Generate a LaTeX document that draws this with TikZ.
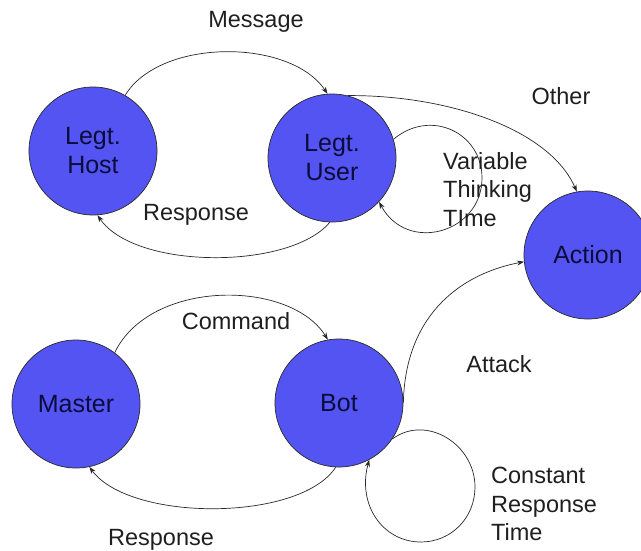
\documentclass[tikz,border=0pt]{standalone}
\usepackage{fontspec}
\setmainfont{Liberation Sans}
\usetikzlibrary{arrows.meta}
\definecolor{statefill}{RGB}{84,84,242}
\definecolor{statetext}{RGB}{12,12,60}
\definecolor{wire}{RGB}{40,40,40}

\begin{document}
\begin{tikzpicture}[x=1pt,y=-1pt,
  state/.style={circle,draw=wire,line width=0.7pt,fill=statefill,
    minimum size=128pt,inner sep=0pt,align=center,text=statetext,
    font=\fontsize{25}{29}\selectfont},
  lbl/.style={inner sep=0pt,text=black!88,font=\fontsize{23.5}{28.5}\selectfont},
  edge/.style={draw=wire,line width=0.7pt,-{Stealth[length=7pt,width=5pt]}}]

\path[use as bounding box] (0,0) rectangle (641,550);

% states
\node[state] (host)   at (93,151)  {Legt.\\Host};
\node[state] (user)   at (332,158) {Legt.\\User};
\node[state] (action) at (588,255) {Action};
\node[state] (master) at (76,404)  {Master};
\node[state] (bot)    at (339,403) {Bot};

% legitimate exchange
\draw[edge] (host.60) .. controls (160,38) and (290,38) .. (user.94);
\draw[edge] (user.-92) .. controls (290,270) and (135,270) .. (host.-86);
\draw[edge] (user.76) .. controls (450,95) and (550,130) .. (action.100);
\draw[edge] (user.17) .. controls (431,108) and (482,133) .. (482,178)
            .. controls (482,233) and (407,254) .. (user.-43);

% bot exchange
\draw[edge] (master.53) .. controls (150,279) and (290,279) .. (bot.100);
\draw[edge] (bot.-93) .. controls (300,522) and (130,522) .. (master.-78);
\draw[edge] (bot.0) .. controls (405,320) and (455,275) .. (action.186);
\draw[edge] (bot.-34) .. controls (426,414) and (475,444) .. (475,487)
            .. controls (475,518) and (451,542) .. (421,542)
            .. controls (383,542) and (357,505) .. (bot.-62);

% transition labels
\node[lbl,anchor=base] (lmsg)  at (256,27)  {Message};
\node[lbl,anchor=base] (lresp) at (196,220) {Response};
\node[lbl,anchor=base] (loth)  at (561,104) {Other};
\node[lbl,anchor=north west,align=left] (lthink) at (443,152) {Variable\\Thinking\\TIme};
\node[lbl,anchor=base] (lcmd)  at (236,329) {Command};
\node[lbl,anchor=base] (latk)  at (499,372) {Attack};
\node[lbl,anchor=base] (lbresp) at (161,545) {Response};
\node[lbl,anchor=north west,align=left] (lconst) at (491,467) {Constant\\Response\\Time};
\end{tikzpicture}
\end{document}
